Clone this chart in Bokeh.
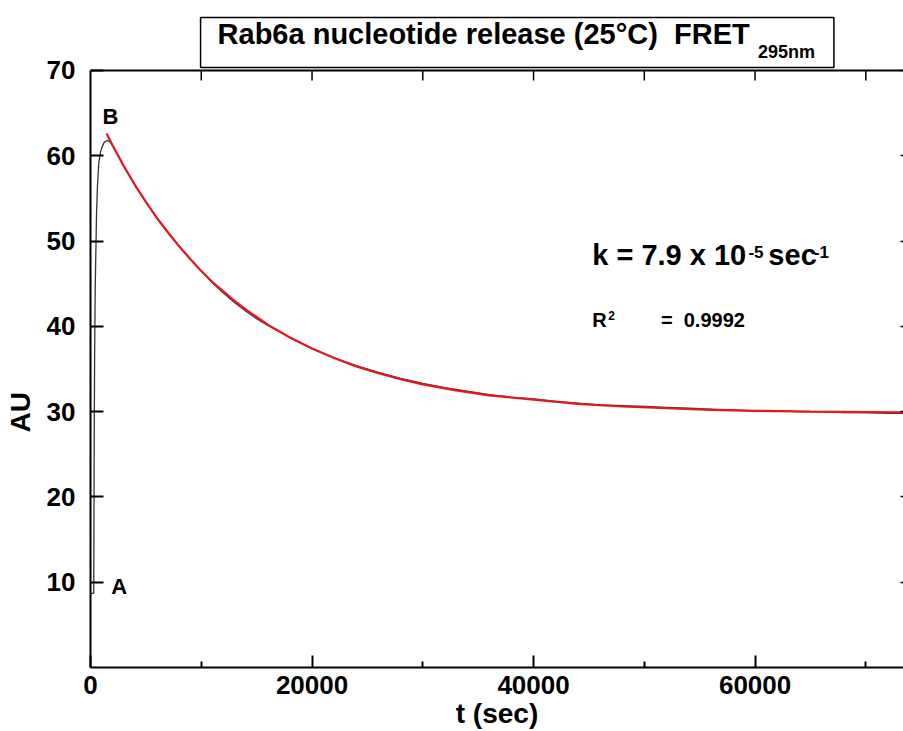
from bokeh.plotting import figure
from bokeh.models import (Range1d, LinearAxis, FixedTicker, Label, CustomJSTickFormatter,
                          BoxAnnotation)
from bokeh.embed import file_html
from bokeh.resources import INLINE

# ---- data ----
t_data = [0, 290, 300, 330, 370, 420, 480, 542, 630, 750, 900, 1060, 1250, 1500, 1700,
          1900, 2200, 2600, 3000, 3500, 4000, 5000, 6000, 7000, 8000, 9000, 10000,
          11000, 12000, 13000, 14000, 15000, 16000, 17000, 18000, 20000, 22000, 24000,
          26000, 28000, 30000, 32000, 34000, 36000, 38000, 40000, 42000, 44000, 46000,
          48000, 50000, 52000, 54000, 56000, 58000, 60000, 62000, 64000, 66000, 68000,
          70000, 72000, 74000]
au_data = [8.7, 8.7, 12.0, 25.0, 36.0, 44.0, 48.5, 53.0, 56.5, 59.2, 60.4, 61.1, 61.6, 61.8, 61.7,
           61.4, 60.7, 59.8, 58.8, 57.7, 56.6, 54.6, 52.7, 51.0, 49.4, 47.9, 46.5,
           45.1, 43.9, 42.8, 41.8, 40.9, 40.1, 39.4, 38.7, 37.4, 36.3, 35.4,
           34.6, 33.9, 33.3, 32.8, 32.4, 32.0, 31.7, 31.5, 31.2, 31.0, 30.8,
           30.7, 30.6, 30.5, 30.4, 30.3, 30.2, 30.1, 30.1, 30.0, 30.0, 29.9,
           29.9, 29.8, 29.8]

t_fit = [1450, 2000, 3000, 4000, 5000, 6000, 7000, 8000, 9000, 10000, 11000, 12000, 13000,
         14000, 15000, 16000, 18000, 20000, 22000, 24000, 26000, 28000, 30000, 33000,
         36000, 40000, 44000, 48000, 52000, 56000, 60000, 65000, 70000, 74000]
au_fit = [62.6, 61.2, 58.8, 56.6, 54.6, 52.7, 51.0, 49.4, 47.9, 46.5, 45.2, 44.1, 43.0,
          42.0, 41.1, 40.2, 38.7, 37.4, 36.3, 35.3, 34.5, 33.8, 33.2, 32.5,
          31.9, 31.4, 30.9, 30.6, 30.4, 30.2, 30.1, 30.0, 29.95, 29.9]

x_major_ticks = [0, 20000, 40000, 60000]
x_minor_ticks = [10000, 30000, 50000, 70000]
x_top_ticks = [10000, 20000, 30000, 40000, 50000, 60000, 70000]
y_ticks = [10, 20, 30, 40, 50, 60, 70]
Y_AXIS_TOP = 70

NB = "\u00a0"
title_text = "Rab6a nucleotide release (25\u00b0C)" + NB + NB + "FRET"
title_sub = "295nm"
k_text = "k = 7.9 x 10"
k_exp = "-5"
k_unit = "sec"
k_unit_exp = "-1"
r_text = "R"
r_exp = "2"
r_val = "=" + NB + NB + "0.9992"
x_label = "t (sec)"
y_label = "AU" + NB * 20

FONT = "Liberation Sans"
X_END = 73400
Y_END = 78.09   # frame reaches the top of the canvas; the axis box stops at 70
TOP_TICK_LEN = 1.17   # 10 px in AU units

p = figure(width=903, height=731, output_backend="svg", toolbar_location=None,
           x_range=Range1d(0, X_END), y_range=Range1d(0, Y_END),
           x_axis_location=None, y_axis_location=None, title_location=None,
           min_border_left=90, min_border_right=0, min_border_top=1, min_border_bottom=64)
p.grid.visible = False
p.outline_line_color = None
p.background_fill_color = "white"
p.border_fill_color = "white"

empty = CustomJSTickFormatter(code="return ''")

# bottom axis
xb = LinearAxis(ticker=FixedTicker(ticks=x_major_ticks, minor_ticks=x_minor_ticks))
xb.axis_line_width = 2
xb.major_tick_in = 12
xb.major_tick_out = 0
xb.minor_tick_in = 6
xb.minor_tick_out = 0
xb.major_tick_line_width = 2
xb.minor_tick_line_width = 2
xb.major_label_standoff = 8
xb.major_label_text_font = FONT
xb.major_label_text_font_style = "bold"
xb.major_label_text_font_size = "26px"
xb.major_label_text_color = "black"
xb.axis_label = x_label
xb.axis_label_standoff = 1
xb.axis_label_text_font = FONT
xb.axis_label_text_font_style = "bold"
xb.axis_label_text_font_size = "28px"
xb.axis_label_text_color = "black"
p.add_layout(xb, "below")

# top axis line, drawn at AU = 70
xt = LinearAxis(ticker=FixedTicker(ticks=x_top_ticks, minor_ticks=[]), formatter=empty,
                fixed_location=Y_AXIS_TOP)
xt.axis_line_width = 2
xt.major_tick_line_color = None
xt.major_label_standoff = 0
xt.major_label_text_font_size = "0px"
p.add_layout(xt, "above")

# inward tick marks of the top edge
p.segment(x0=x_top_ticks, y0=[Y_AXIS_TOP] * len(x_top_ticks),
          x1=x_top_ticks, y1=[Y_AXIS_TOP - TOP_TICK_LEN] * len(x_top_ticks),
          line_color="black", line_width=1.5)

# left axis
yl = LinearAxis(ticker=FixedTicker(ticks=y_ticks, minor_ticks=[]), bounds=(0, Y_AXIS_TOP))
yl.axis_line_width = 2
yl.major_tick_in = 13
yl.major_tick_out = 0
yl.major_tick_line_width = 2
yl.major_label_standoff = 15
yl.major_label_text_font = FONT
yl.major_label_text_font_style = "bold"
yl.major_label_text_font_size = "26px"
yl.major_label_text_color = "black"
yl.axis_label = y_label
yl.axis_label_standoff = 8
yl.axis_label_text_font = FONT
yl.axis_label_text_font_style = "bold"
yl.axis_label_text_font_size = "28px"
yl.axis_label_text_color = "black"
p.add_layout(yl, "left")

# right axis (its line is outside the view)
yr = LinearAxis(ticker=FixedTicker(ticks=y_ticks, minor_ticks=[]), formatter=empty,
                bounds=(0, Y_AXIS_TOP))
yr.axis_line_color = None
yr.major_tick_in = 3
yr.major_tick_out = 0
yr.major_tick_line_width = 1.5
yr.major_label_standoff = 0
yr.major_label_text_font_size = "0px"
p.add_layout(yr, "right")

p.line(t_data, au_data, line_color="#333333", line_width=1.3)
p.line(t_fit, au_fit, line_color="#e8161e", line_width=2.2)

def lab(x, y, text, size, **kw):
    l = Label(x=x, y=y, text=text, text_font=FONT, text_font_style="bold",
              text_font_size=size, text_color="black", **kw)
    p.add_layout(l)
    return l

# boxed title above the top axis
p.add_layout(BoxAnnotation(left=9937, right=67119, bottom=70.34, top=76.2,
                           fill_color=None, fill_alpha=0, line_color="black",
                           line_width=1.5, line_alpha=1))
lab(11472, 72.45, title_text, "29px")
lab(60253, 71.04, title_sub, "18px")

# point labels
lab(1800, 64.6, "B", "22px", text_align="center", text_baseline="middle")
lab(2600, 9.5, "A", "22px", text_align="center", text_baseline="middle")

# rate constant
lab(45300, 46.5, k_text, "29px")
lab(59400, 48.0, k_exp, "17px")
lab(61200, 46.5, k_unit, "29px")
lab(65300, 48.0, k_unit_exp, "17px")

lab(45300, 39.5, r_text, "20px")
lab(46750, 40.7, r_exp, "12px")
lab(51500, 39.5, r_val, "20px")

open("out.html", "w").write(file_html(p, INLINE))
